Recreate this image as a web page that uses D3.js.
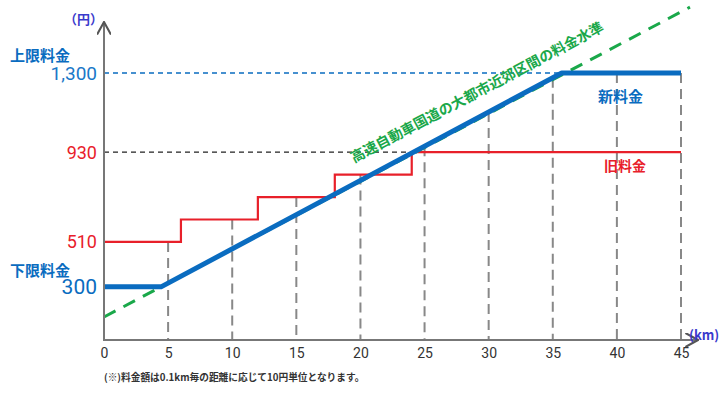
<!DOCTYPE html>
<html><head><meta charset="utf-8">
<script src="https://cdn.jsdelivr.net/npm/d3@7"></script>
<style>
body{margin:0;background:#fff;}
text{font-family:"Noto Sans CJK JP","Noto Sans",sans-serif;}
</style></head>
<body><svg id="c" width="720" height="399"></svg>
<script>
// ---- data ----
const kmTicks = [0,5,10,15,20,25,30,35,40,45];
const yenMarks = [300,510,930,1300];
const yenMarkLabels = ["300","510","930","1,300"];
const newFareKm = [0,4.45,35.7,45];
const newFareYen = [300,300,1300,1300];
const oldFareKm = [0,6,12,18,24,45];
const oldFareYen = [510,615,720,825,930,930];
const expresswayKm = [0,45.7];
const expresswayYen = [159,1608];

const svg = d3.select("#c");
const x = d3.scaleLinear().domain([0,45]).range([104,681]);
const y = d3.scaleLinear().domain([0,1300]).range([351,73]);
const axisY = 340;

const blue="#0a6cc0", red="#e8202a", green="#1aa84a", gray="#888";

const defs = svg.append("defs");
defs.append("marker").attr("id","arr").attr("viewBox","0 0 10 10").attr("refX",9).attr("refY",5)
  .attr("markerWidth",7).attr("markerHeight",7).attr("orient","auto-start-reverse")
  .append("path").attr("d","M0,0L9,5L0,10").attr("fill","none").attr("stroke","#555").attr("stroke-width",1.5);

const newPts = newFareKm.map((k,i)=>[k,newFareYen[i]]);
const oldPts = oldFareKm.map((k,i)=>[k,oldFareYen[i]]);
function topAt(k){
  const nb = d3.scaleLinear().domain(newFareKm).range(newFareYen)(k);
  let ob = oldFareYen[0];
  for(let i=0;i<oldFareKm.length;i++){ if(k>=oldFareKm[i]) ob=oldFareYen[i]; }
  return Math.max(nb,ob);
}

// vertical dashed guides
svg.append("g").selectAll("line").data(kmTicks.filter(d=>d>0)).join("line")
  .attr("x1",d=>x(d)).attr("x2",d=>x(d)).attr("y1",d=>y(topAt(d))).attr("y2",axisY)
  .attr("stroke",gray).attr("stroke-width",2).attr("stroke-dasharray","10,6");

// horizontal reference dashes
svg.append("line").attr("x1",x(0)).attr("x2",x(35.7)).attr("y1",y(1300)).attr("y2",y(1300))
  .attr("stroke",blue).attr("stroke-width",1.3).attr("stroke-dasharray","5,4");
svg.append("line").attr("x1",x(0)).attr("x2",x(26)).attr("y1",y(930)).attr("y2",y(930))
  .attr("stroke","#222").attr("stroke-width",1.3).attr("stroke-dasharray","5,4");

// old fare
svg.append("path").datum(oldPts).attr("d",d3.line().x(d=>x(d[0])).y(d=>y(d[1])).curve(d3.curveStepAfter))
  .attr("fill","none").attr("stroke",red).attr("stroke-width",2.2);

// green dashed expressway level
const gPts = expresswayKm.map((k,i)=>[k,expresswayYen[i]]);
svg.append("path").datum(gPts).attr("d",d3.line().x(d=>x(d[0])).y(d=>y(d[1])))
  .attr("fill","none").attr("stroke",green).attr("stroke-width",3).attr("stroke-dasharray","13,9");

// new fare
svg.append("path").datum(newPts).attr("d",d3.line().x(d=>x(d[0])).y(d=>y(d[1])))
  .attr("fill","none").attr("stroke",blue).attr("stroke-width",5).attr("stroke-linejoin","round");

// axes
svg.append("line").attr("x1",x(0)).attr("x2",x(0)).attr("y1",axisY).attr("y2",22)
  .attr("stroke","#777").attr("stroke-width",2).attr("marker-end","url(#arr)");
svg.append("line").attr("x1",x(0)-1).attr("x2",698).attr("y1",axisY).attr("y2",axisY)
  .attr("stroke","#777").attr("stroke-width",2).attr("marker-end","url(#arr)");

const xa = svg.append("g").attr("transform",`translate(0,${axisY})`)
  .call(d3.axisBottom(x).tickValues(kmTicks).tickSize(0).tickPadding(8));
xa.select(".domain").remove();
xa.selectAll("text").attr("font-size",14).attr("fill","#333").style("font-family","Roboto, 'Noto Sans', sans-serif");

// y labels
const yCol = {300:blue,510:red,930:red,1300:"#1a78c8"};
const ySize = {300:21,510:18,930:18,1300:19};
svg.append("g").selectAll("text").data(yenMarks).join("text")
  .attr("x",97).attr("y",d=>y(d)).attr("dy","0.36em").attr("text-anchor","end")
  .attr("font-size",d=>ySize[d]).attr("fill",d=>yCol[d])
  .style("font-family","Roboto, 'Noto Sans', sans-serif")
  .text((d,i)=>yenMarkLabels[i]);

svg.append("text").attr("x",10).attr("y",61).attr("font-size",15).attr("font-weight","bold").attr("fill",blue).text("上限料金");
svg.append("text").attr("x",10).attr("y",276).attr("font-size",15).attr("font-weight","bold").attr("fill",blue).text("下限料金");
svg.append("text").attr("x",64).attr("y",24).attr("font-size",13).attr("font-weight","bold").attr("fill","#3a3acc").text("（円）");
svg.append("text").attr("x",689).attr("y",340).attr("font-size",13).attr("font-weight","bold").attr("fill","#3a3acc").text("(km)");

svg.append("text").attr("x",598).attr("y",102).attr("font-size",15).attr("font-weight","bold").attr("fill",blue).text("新料金");
svg.append("text").attr("x",604).attr("y",171).attr("font-size",14).attr("font-weight","bold").attr("fill",red).text("旧料金");

const ang = Math.atan2(y(expresswayYen[1])-y(expresswayYen[0]), x(expresswayKm[1])-x(expresswayKm[0]))*180/Math.PI;
svg.append("text").attr("transform",`translate(354,163) rotate(${ang})`)
  .attr("font-size",14.2).attr("font-weight","bold").attr("fill",green)
  .text("高速自動車国道の大都市近郊区間の料金水準");

svg.append("text").attr("x",104).attr("y",381).attr("font-size",9.7).attr("font-weight","bold").attr("fill","#333")
  .text("(※)料金額は0.1km毎の距離に応じて10円単位となります。");
</script></body></html>
